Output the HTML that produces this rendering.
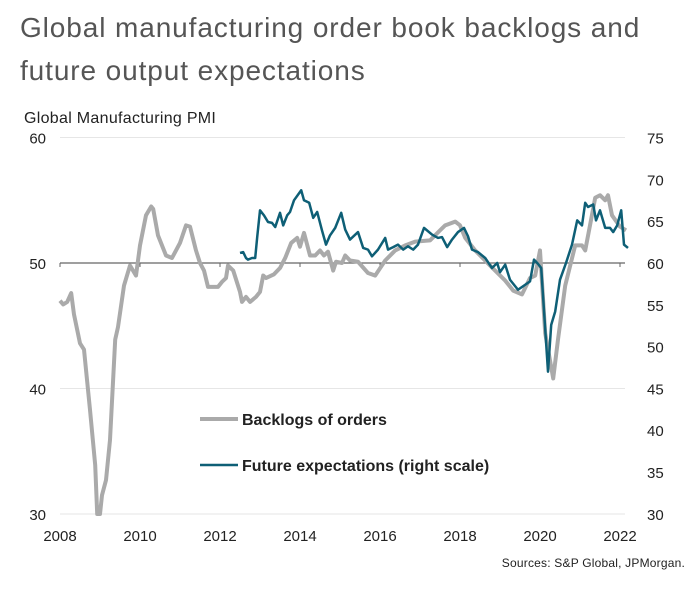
<!DOCTYPE html>
<html><head><meta charset="utf-8"><style>
body{margin:0;background:#fff;width:696px;height:593px;overflow:hidden;font-family:"Liberation Sans",sans-serif}
</style></head><body>
<svg width="696" height="593" style="font-family:'Liberation Sans',sans-serif">
<text x="20" y="37" font-size="28" letter-spacing="0.9" fill="#555">Global manufacturing order book backlogs and</text>
<text x="20" y="80" font-size="28" letter-spacing="0.9" fill="#555">future output expectations</text>
<text x="24" y="123" font-size="16" letter-spacing="0.3" fill="#222">Global Manufacturing PMI</text>
<g id="grid"></g><g id="axes"></g><g id="series"></g>
<line x1="200" y1="419" x2="238" y2="419" stroke="#aaa" stroke-width="4"/>
<text x="242" y="425" font-size="16" font-weight="bold" fill="#222">Backlogs of orders</text>
<line x1="200" y1="465" x2="238" y2="465" stroke="#0e5f76" stroke-width="2.5"/>
<text x="242" y="471" font-size="16" font-weight="bold" fill="#222">Future expectations (right scale)</text>
<text x="685" y="567" font-size="12" letter-spacing="0.2" fill="#222" text-anchor="end">Sources: S&amp;P Global, JPMorgan.</text>
</svg>
<script>
const backYears=[2008.00,2008.08,2008.18,2008.28,2008.35,2008.5,2008.6,2008.75,2008.88,2008.93,2009.0,2009.05,2009.15,2009.25,2009.38,2009.45,2009.6,2009.75,2009.9,2010.0,2010.15,2010.28,2010.33,2010.45,2010.65,2010.8,2011.0,2011.15,2011.25,2011.4,2011.5,2011.6,2011.7,2011.95,2012.05,2012.15,2012.2,2012.33,2012.5,2012.55,2012.65,2012.75,2012.9,2013.0,2013.08,2013.15,2013.35,2013.5,2013.63,2013.78,2013.93,2014.0,2014.1,2014.25,2014.38,2014.5,2014.6,2014.7,2014.83,2014.9,2015.05,2015.13,2015.25,2015.45,2015.7,2015.88,2016.13,2016.38,2016.63,2016.88,2017.25,2017.5,2017.63,2017.88,2018.0,2018.13,2018.38,2018.75,2019.13,2019.33,2019.55,2019.75,2019.88,2020.0,2020.13,2020.33,2020.45,2020.63,2020.88,2021.05,2021.13,2021.25,2021.38,2021.5,2021.63,2021.7,2021.8,2022.0,2022.15];
const backValues=[47.0,46.7,46.9,47.6,45.9,43.6,43.1,38.3,33.9,30.0,30.0,31.5,32.7,35.9,43.9,44.9,48.2,49.8,49.0,51.4,53.8,54.5,54.3,52.2,50.6,50.4,51.6,53.0,52.9,51.0,50.0,49.4,48.1,48.1,48.5,48.8,49.8,49.4,47.7,46.9,47.3,46.9,47.3,47.7,49.0,48.8,49.1,49.6,50.4,51.6,52.0,51.3,52.4,50.6,50.6,51.0,50.6,50.9,49.4,50.1,50.0,50.6,50.2,50.1,49.2,49.0,50.2,51.0,51.4,51.7,51.8,52.6,53.0,53.3,53.0,52.0,51.0,49.8,48.6,47.8,47.5,48.8,49.0,51.0,44.4,40.8,43.9,48.2,51.4,51.4,51.0,53.0,55.2,55.4,55.0,55.4,53.8,52.9,52.6];
const expYears=[2012.5,2012.58,2012.65,2012.7,2012.8,2012.88,2012.93,2013.0,2013.1,2013.2,2013.3,2013.38,2013.5,2013.58,2013.68,2013.75,2013.85,2014.03,2014.1,2014.23,2014.33,2014.43,2014.55,2014.65,2014.75,2014.88,2015.03,2015.13,2015.25,2015.45,2015.58,2015.7,2015.8,2015.95,2016.13,2016.2,2016.33,2016.45,2016.58,2016.7,2016.83,2016.95,2017.1,2017.3,2017.45,2017.55,2017.68,2017.8,2017.95,2018.1,2018.2,2018.3,2018.45,2018.63,2018.8,2018.93,2019.0,2019.13,2019.25,2019.45,2019.63,2019.75,2019.85,2019.95,2020.03,2020.2,2020.28,2020.38,2020.5,2020.65,2020.8,2020.93,2021.05,2021.13,2021.2,2021.33,2021.4,2021.5,2021.63,2021.75,2021.83,2021.93,2022.03,2022.1,2022.2];
const expValues=[61.2,61.3,60.6,60.4,60.6,60.6,63.1,66.3,65.7,64.9,64.8,64.3,66.0,64.5,65.7,66.1,67.5,68.7,67.5,67.2,65.4,66.1,63.9,62.2,63.3,64.2,66.0,64.0,62.8,63.7,61.8,61.6,60.8,61.6,63.0,61.6,61.9,62.2,61.6,62.0,61.6,62.2,64.2,63.4,63.0,63.1,61.9,62.8,63.7,64.2,63.2,61.6,61.3,60.6,59.4,60.0,58.9,59.8,58.0,56.8,57.4,57.8,60.4,59.9,59.4,47.0,52.6,54.2,58.0,60.0,62.2,65.1,64.5,67.2,66.7,67.0,65.1,66.3,64.2,64.2,63.7,64.5,66.3,62.2,61.8];
const leftTicks=[30,40,50,60];
const rightTicks=[30,35,40,45,50,55,60,65,70,75];
const yearTicks=[2008,2010,2012,2014,2016,2018,2020,2022];
const NS='http://www.w3.org/2000/svg';
const X=y=>60+(y-2008)*40;
const YL=v=>263-(v-50)*12.55;
const YR=v=>263-(v-60)*8.36;
function mk(tag,attrs,parent){const e=document.createElementNS(NS,tag);for(const k in attrs)e.setAttribute(k,attrs[k]);document.getElementById(parent).appendChild(e);return e;}
leftTicks.forEach(v=>{
 if(v!==50){const g=mk('line',{x1:60,x2:625,y1:YL(v),y2:YL(v),stroke:'#e6e6e6','stroke-width':1},'grid');
 
 }
 const t=mk('text',{x:46,y:YL(v)+6,'font-size':15,'text-anchor':'end',fill:'#222'},'axes');t.textContent=v;
 
 
});
rightTicks.forEach(v=>{
 const t=mk('text',{x:647,y:YR(v)+6,'font-size':15,'text-anchor':'start',fill:'#222'},'axes');t.textContent=v;
 
 
});
const base=mk('line',{x1:60,x2:625,y1:YL(50),y2:YL(50),stroke:'#666','stroke-width':1.3},'axes');


yearTicks.forEach(y=>{
 const tk=mk('line',{x1:X(y),x2:X(y),y1:YL(50),y2:YL(50)+4,stroke:'#666'},'axes');
 
 
 const t=mk('text',{x:X(y),y:541,'font-size':15,'text-anchor':'middle',fill:'#222'},'axes');t.textContent=y;
 
 
});
const bp=mk('polyline',{points:backYears.map((y,i)=>X(y)+','+YL(backValues[i])).join(' '),fill:'none',stroke:'#aaa','stroke-width':4,'stroke-linejoin':'round'},'series');


const ep=mk('polyline',{points:expYears.map((y,i)=>X(y)+','+YR(expValues[i])).join(' '),fill:'none',stroke:'#0e5f76','stroke-width':2.5,'stroke-linejoin':'round'},'series');


</script>
</body></html>
